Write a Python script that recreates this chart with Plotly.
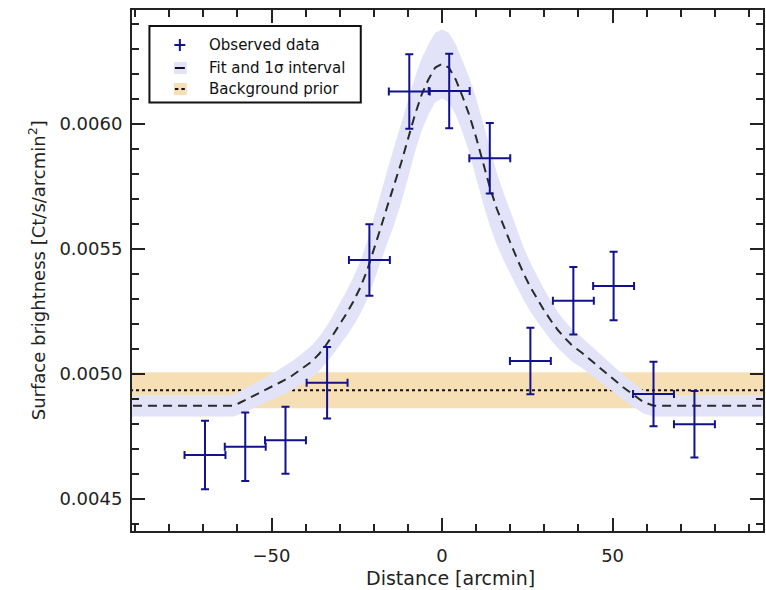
import plotly.graph_objects as go

# ---- observed surface-brightness profile ----
obs_x = [-69.5, -57.7, -45.9, -33.7, -21.3, -9.6, 2.1, 14.0, 25.9, 38.5, 50.3, 62.0, 74.0]
obs_xerr = [6.0, 6.0, 6.0, 6.0, 6.0, 6.0, 6.0, 6.0, 6.0, 6.0, 6.0, 6.0, 6.0]
obs_y = [0.004676, 0.004709, 0.004735, 0.004965, 0.005456, 0.006130, 0.006132,
         0.005863, 0.005052, 0.005293, 0.005352, 0.004920, 0.004799]
obs_yerr = [0.000137, 0.000137, 0.000134, 0.000143, 0.000143, 0.000149, 0.000149,
            0.000141, 0.000133, 0.000135, 0.000137, 0.000129, 0.000133]

# ---- best-fit model and its 1-sigma half width ----
fit_x = [-95, -61, -59, -56, -53, -50, -47, -44, -41, -38, -36, -34, -32, -30, -28, -26,
         -24, -22, -20, -18, -16, -14, -12, -10, -8, -6, -4, -2, 0,
         2, 4, 6, 8, 10, 12, 14, 16, 18, 20, 22, 24, 26, 28, 30, 32, 34, 36, 38,
         41, 44, 47, 50, 53, 56, 59, 62, 95]
fit_y = [0.004873, 0.004873, 0.004887, 0.004907, 0.004929, 0.004948, 0.004970, 0.004993,
         0.005021, 0.005052, 0.005081, 0.005116, 0.005156, 0.005198, 0.005242, 0.005290,
         0.005345, 0.005413, 0.005495, 0.005584, 0.005673, 0.005755, 0.005844, 0.005939,
         0.006035, 0.006117, 0.006178, 0.006226, 0.006240,
         0.006226, 0.006178, 0.006110, 0.006035, 0.005946, 0.005844, 0.005748, 0.005663,
         0.005591, 0.005526, 0.005461, 0.005399, 0.005345, 0.005297, 0.005253, 0.005212,
         0.005175, 0.005144, 0.005116, 0.005085, 0.005051, 0.005017, 0.004982, 0.004948,
         0.004918, 0.004888, 0.004873, 0.004873]
fit_sig = [0.000043, 0.000043, 0.000046, 0.000048, 0.000050, 0.000052, 0.000055, 0.000058,
           0.000061, 0.000065, 0.000068, 0.000072, 0.000078, 0.000084, 0.000090, 0.000097,
           0.000105, 0.000115, 0.000125, 0.000135, 0.000145, 0.000155, 0.000160, 0.000157,
           0.000150, 0.000144, 0.000141, 0.000139, 0.000138,
           0.000139, 0.000141, 0.000144, 0.000150, 0.000157, 0.000160, 0.000155, 0.000145,
           0.000135, 0.000125, 0.000115, 0.000105, 0.000097, 0.000090, 0.000084, 0.000078,
           0.000072, 0.000068, 0.000065, 0.000061, 0.000058, 0.000055, 0.000052, 0.000050,
           0.000048, 0.000046, 0.000043, 0.000043]

# ---- background prior ----
bg_level = 0.004935
bg_sig = 0.000072
bg_span = [-95, 95]

# ---- axes ----
x_range = [-90.9, 94.1]
y_range = [0.004372, 0.006456]
x_ticks = [-50, 0, 50]
y_ticks = [0.0045, 0.0050, 0.0055, 0.0060]

NAVY = "rgb(18,18,140)"
LAVENDER = "rgb(226,227,248)"
WHEAT = "rgb(246,223,180)"
INK = "#222222"
FONT = "DejaVu Sans"

W, H = 766, 590
L, R, T, B = 132, 1, 10, 59


def px_x(p):
    return (p - L) / (W - L - R)


def px_y(p):
    return (H - B - p) / (H - T - B)


fig = go.Figure()

# background prior band and its central value
fig.add_trace(go.Scatter(
    x=[bg_span[0], bg_span[1], bg_span[1], bg_span[0]],
    y=[bg_level - bg_sig, bg_level - bg_sig, bg_level + bg_sig, bg_level + bg_sig],
    fill="toself", fillcolor=WHEAT, line=dict(width=0), mode="lines",
    hoverinfo="skip", showlegend=False))
fig.add_trace(go.Scatter(
    x=bg_span, y=[bg_level, bg_level], mode="lines",
    line=dict(color="#111111", width=2, dash="3px,3px"),
    hoverinfo="skip", showlegend=False))

# 1-sigma envelope of the fit
upper = [y + s for y, s in zip(fit_y, fit_sig)]
lower = [y - s for y, s in zip(fit_y, fit_sig)]
fig.add_trace(go.Scatter(
    x=fit_x + fit_x[::-1], y=upper + lower[::-1],
    fill="toself", fillcolor=LAVENDER, mode="lines",
    line=dict(width=0),
    hoverinfo="skip", showlegend=False))

# best fit
fig.add_trace(go.Scatter(
    x=fit_x, y=fit_y, mode="lines",
    line=dict(color="#2a2a2a", width=2, dash="9px,6px"),
    showlegend=False))

# observed data with error bars
fig.add_trace(go.Scatter(
    x=obs_x, y=obs_y, mode="markers",
    marker=dict(size=1, color=NAVY),
    error_x=dict(type="data", array=obs_xerr, color=NAVY, thickness=2, width=4),
    error_y=dict(type="data", array=obs_yerr, color=NAVY, thickness=2, width=4),
    showlegend=False))

axis_common = dict(
    showline=True, linecolor=INK, linewidth=2, mirror="allticks",
    ticks="inside", ticklen=13, tickwidth=2, tickcolor=INK,
    showgrid=False, zeroline=False,
    tickfont=dict(family=FONT, size=18, color=INK),
)

fig.update_xaxes(range=x_range, tickvals=x_ticks, ticklabelstandoff=7,
                 minor=dict(ticks="inside", ticklen=7, tickwidth=2, tickcolor=INK, dtick=10, tick0=0),
                 **axis_common)
fig.update_yaxes(range=y_range, tickvals=y_ticks, tickformat=".4f", ticklabelstandoff=4,
                 minor=dict(ticks="inside", ticklen=7, tickwidth=2, tickcolor=INK, dtick=0.0001, tick0=0),
                 **axis_common)

# axis titles
annotations = [
    dict(text="Distance [arcmin]", x=px_x(452), y=px_y(578), xref="paper", yref="paper",
         showarrow=False, xanchor="center", yanchor="middle",
         font=dict(family=FONT, size=19, color=INK)),
    dict(text="Surface brightness [Ct/s/arcmin<sup>2</sup>]", x=px_x(37), y=px_y(270),
         xref="paper", yref="paper", textangle=-90, showarrow=False,
         xanchor="center", yanchor="middle", font=dict(family=FONT, size=18, color=INK)),
]

# legend
legend_labels = ["Observed data", "Fit and 1\u03c3 interval", "Background prior"]
legend_rows = [45, 68, 89]
for lab, row in zip(legend_labels, legend_rows):
    annotations.append(dict(text=lab, x=px_x(207), y=px_y(row), xref="paper", yref="paper",
                            showarrow=False, xanchor="left", yanchor="middle",
                            font=dict(family=FONT, size=15, color="#111111")))

shapes = [
    dict(type="rect", xref="paper", yref="paper", x0=px_x(149.5), x1=px_x(361.5),
         y0=px_y(102.5), y1=px_y(26), line=dict(color="#111111", width=2), fillcolor="white"),
    # data symbol
    dict(type="line", xref="paper", yref="paper", x0=px_x(174.5), x1=px_x(185.5),
         y0=px_y(45), y1=px_y(45), line=dict(color=NAVY, width=2)),
    dict(type="line", xref="paper", yref="paper", x0=px_x(180), x1=px_x(180),
         y0=px_y(39), y1=px_y(51), line=dict(color=NAVY, width=2)),
    # fit symbol
    dict(type="rect", xref="paper", yref="paper", x0=px_x(174), x1=px_x(187),
         y0=px_y(74), y1=px_y(62), line=dict(width=0), fillcolor=LAVENDER),
    dict(type="line", xref="paper", yref="paper", x0=px_x(175), x1=px_x(185),
         y0=px_y(68), y1=px_y(68), line=dict(color="#111111", width=2)),
    # background symbol
    dict(type="rect", xref="paper", yref="paper", x0=px_x(174), x1=px_x(187),
         y0=px_y(95), y1=px_y(83), line=dict(width=0), fillcolor=WHEAT),
    dict(type="line", xref="paper", yref="paper", x0=px_x(175), x1=px_x(178.5),
         y0=px_y(89), y1=px_y(89), line=dict(color="#111111", width=2)),
    dict(type="line", xref="paper", yref="paper", x0=px_x(181.5), x1=px_x(185),
         y0=px_y(89), y1=px_y(89), line=dict(color="#111111", width=2)),
]

fig.update_layout(
    width=W, height=H,
    margin=dict(l=L, r=R, t=T, b=B),
    paper_bgcolor="white", plot_bgcolor="white",
    annotations=annotations, shapes=shapes,
    showlegend=False,
)

fig.write_html("out.html")
